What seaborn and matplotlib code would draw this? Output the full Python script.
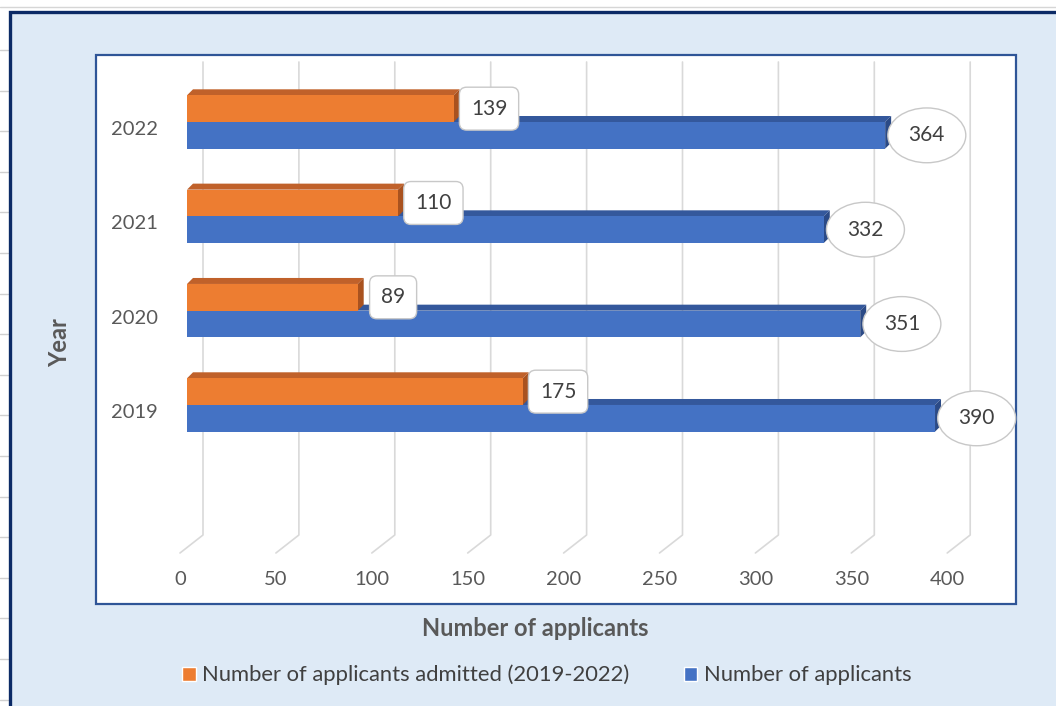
import matplotlib
matplotlib.use("Agg")
import numpy as np
import pandas as pd
import seaborn as sns
import matplotlib.pyplot as plt
from matplotlib.patches import Rectangle, Polygon, Patch
from matplotlib.lines import Line2D

# data
years = ["2022", "2021", "2020", "2019"]
admitted = [139, 110, 89, 175]
applicants = [364, 332, 351, 390]
series = ["Number of applicants admitted (2019-2022)", "Number of applicants"]
xticks = [0, 50, 100, 150, 200, 250, 300, 350, 400]

ORANGE, BLUE = "#ED7D31", "#4472C4"
DARK = {ORANGE: ("#c0612a", "#a9521f"), BLUE: ("#34589c", "#2b4a86")}
TXT = "#595959"

df = pd.DataFrame({
    "Year": years * 2,
    "value": admitted + applicants,
    "series": [series[0]] * 4 + [series[1]] * 4,
})

sns.set_style("white")
plt.rcParams["font.family"] = ["Lato", "DejaVu Sans"]

W, H = 1056, 706
fig = plt.figure(figsize=(W / 100, H / 100), dpi=100)
fig.patch.set_facecolor("white")


def fx(p):
    return p / W


def fy(p):
    return 1 - p / H


# sheet leftovers + chart area + plot area
fig.add_artist(Line2D([0, 1], [fy(7), fy(7)], color="#d6d6d6", lw=1, zorder=-4))
for yy in np.arange(50, H, 40.6):
    fig.add_artist(Line2D([0, fx(8)], [fy(yy), fy(yy)], color="#d0d0d0", lw=1, zorder=-4))
fig.add_artist(Rectangle((fx(10), fy(730)), fx(1080) - fx(10), fy(12) - fy(730),
                         transform=fig.transFigure, fc="#deeaf6", ec="#0b2a66",
                         lw=2.4, zorder=-3))
fig.add_artist(Rectangle((fx(96), fy(604)), fx(1016) - fx(96), fy(55) - fy(604),
                         transform=fig.transFigure, fc="white", ec="#2f5597",
                         lw=1.6, zorder=-2))

ax = fig.add_axes([fx(170), fy(555), fx(1000) - fx(170), fy(58) - fy(555)])
ax.set_facecolor("none")

BAR_W = 0.566
sns.barplot(data=df, x="value", y="Year", hue="series", hue_order=series,
            order=years, orient="h", palette=[ORANGE, BLUE], saturation=1,
            width=BAR_W, legend=False, ax=ax)

PXX = 1.918   # pixels per unit on x
PXY = 94.33   # pixels per category on y
ax.set_xlim((170 - 187) / PXX, (1000 - 187) / PXX)
ax.set_ylim((555 - 122) / PXY, (58 - 122) / PXY)

# fake 3d depth on the bars
ddx, ddy = 6 / PXX, 6 / PXY
bars = list(ax.patches)
for p in bars:
    col = matplotlib.colors.to_hex(p.get_facecolor()).upper()
    key = ORANGE if col == ORANGE.upper() else BLUE
    top_c, side_c = DARK[key]
    base = 4 if key == ORANGE else 2
    p.set_zorder(base)
    p.set_edgecolor("none")
    x0, w = p.get_x(), p.get_width()
    yt, yb = min(p.get_y(), p.get_y() + p.get_height()), max(p.get_y(), p.get_y() + p.get_height())
    ax.add_patch(Polygon([(x0, yt), (x0 + w, yt), (x0 + w + ddx, yt - ddy), (x0 + ddx, yt - ddy)],
                         closed=True, fc=top_c, ec="none", zorder=base - 1))
    ax.add_patch(Polygon([(x0 + w, yt), (x0 + w, yb), (x0 + w + ddx, yb - ddy), (x0 + w + ddx, yt - ddy)],
                         closed=True, fc=side_c, ec="none", zorder=base - 1))
    # data label
    yc = (yt + yb) / 2
    if key == ORANGE:
        ax.annotate(f"{w:.0f}", xy=(x0 + w, yc), xytext=(25.5, 0), textcoords="offset points",
                    ha="center", va="center", fontsize=15, color="#404040", zorder=10,
                    bbox=dict(boxstyle="round,pad=0.55,rounding_size=0.35", fc="white",
                              ec="#c8c8c8", lw=1))
    else:
        ax.annotate(f"{w:.0f}", xy=(x0 + w, yc), xytext=(30, 0), textcoords="offset points",
                    ha="center", va="center", fontsize=15, color="#404040", zorder=10,
                    bbox=dict(boxstyle="ellipse,pad=0.45", fc="white", ec="#c8c8c8", lw=1))

# gridlines on the back wall, bending onto the floor
for v in xticks:
    ax.plot([v + 16 / PXX, v + 16 / PXX, v - 7 / PXX],
            [(62 - 122) / PXY, (535 - 122) / PXY, (553 - 122) / PXY],
            color="#d9d9d9", lw=1.2, zorder=0.5)

ax.set_xticks([v - 7 / PXX for v in xticks], labels=[str(v) for v in xticks])
ax.set_yticks([i + 6 / PXY for i in range(len(years))], labels=years)
ax.tick_params(axis="both", length=0, labelsize=14.5, labelcolor=TXT)
ax.tick_params(axis="x", pad=11.5)
ax.tick_params(axis="y", pad=8.5)
ax.set_xlabel("")
ax.set_ylabel("")
sns.despine(ax=ax, left=True, bottom=True)

fig.text(fx(535), fy(628), "Number of applicants", ha="center", va="center",
         fontsize=17, fontweight="bold", color=TXT)
fig.text(fx(60), fy(343), "Year", ha="center", va="center", rotation=90,
         fontsize=17, fontweight="bold", color=TXT)

handles = [Patch(fc=ORANGE), Patch(fc=BLUE)]
fig.legend(handles, series, loc="center", bbox_to_anchor=(fx(547), fy(675)), ncol=2,
           frameon=False, fontsize=15.8, handlelength=0.6, handleheight=0.6,
           handletextpad=0.3, columnspacing=2.5, labelcolor="#404040")

fig.savefig("out.png", dpi=100)
